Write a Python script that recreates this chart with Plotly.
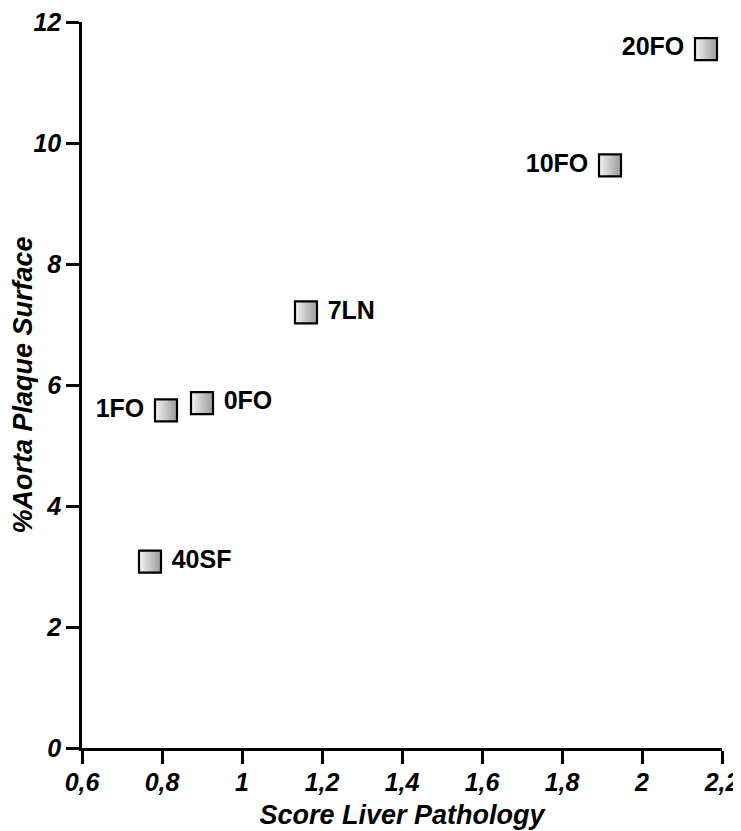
import plotly.graph_objects as go

groups = ["20FO", "10FO", "7LN", "0FO", "1FO", "40SF"]
liver_score = [2.16, 1.92, 1.16, 0.90, 0.81, 0.77]
plaque_pct = [11.55, 9.63, 7.20, 5.70, 5.58, 3.08]
label_side = ["middle left", "middle left", "middle right", "middle right", "middle left", "middle right"]

x_ticks = [0.6, 0.8, 1.0, 1.2, 1.4, 1.6, 1.8, 2.0, 2.2]
x_ticklabels = ["0,6", "0,8", "1", "1,2", "1,4", "1,6", "1,8", "2", "2,2"]
y_ticks = [0, 2, 4, 6, 8, 10, 12]
y_ticklabels = ["0", "2", "4", "6", "8", "10", "12"]

FONT = "Liberation Sans, Arial, Helvetica, sans-serif"

fig = go.Figure()
fig.add_trace(go.Scatter(
    x=liver_score, y=plaque_pct, mode="markers+text",
    text=[" " + g + " " for g in groups], textposition=label_side,
    textfont=dict(family=FONT, size=25, color="black", weight="bold"),
    marker=dict(symbol="square", size=22, color="#f4f4f4",
                gradient=dict(type="horizontal", color="#9a9a9a"),
                line=dict(color="black", width=2.2)),
    cliponaxis=False, showlegend=False, hoverinfo="skip",
))

axis_common = dict(
    showline=True, linecolor="black", linewidth=2.5,
    ticks="outside", ticklen=13, tickwidth=2.5, tickcolor="black",
    showgrid=False, zeroline=False, automargin=False,
    ticklabeloverflow="allow",
    tickfont=dict(family=FONT, size=25, color="black", weight="bold", style="italic"),
)

# page body has an 8px default margin, so the figure is 8px smaller and offset
fig.update_layout(
    width=733, height=823,
    margin=dict(l=74, r=19, t=14, b=83),
    plot_bgcolor="white", paper_bgcolor="white",
    xaxis=dict(range=[0.6, 2.2], tickvals=x_ticks, ticktext=x_ticklabels,
               ticklabelstandoff=-3,
               title=dict(text="Score Liver Pathology", standoff=11,
                          font=dict(family=FONT, size=27, color="black", weight="bold", style="italic")),
               **axis_common),
    yaxis=dict(range=[0, 12], tickvals=y_ticks, ticktext=y_ticklabels,
               title=dict(text="%Aorta Plaque Surface", standoff=0,
                          font=dict(family=FONT, size=27, color="black", weight="bold", style="italic")),
               **axis_common),
)

fig.write_html("out.html")
